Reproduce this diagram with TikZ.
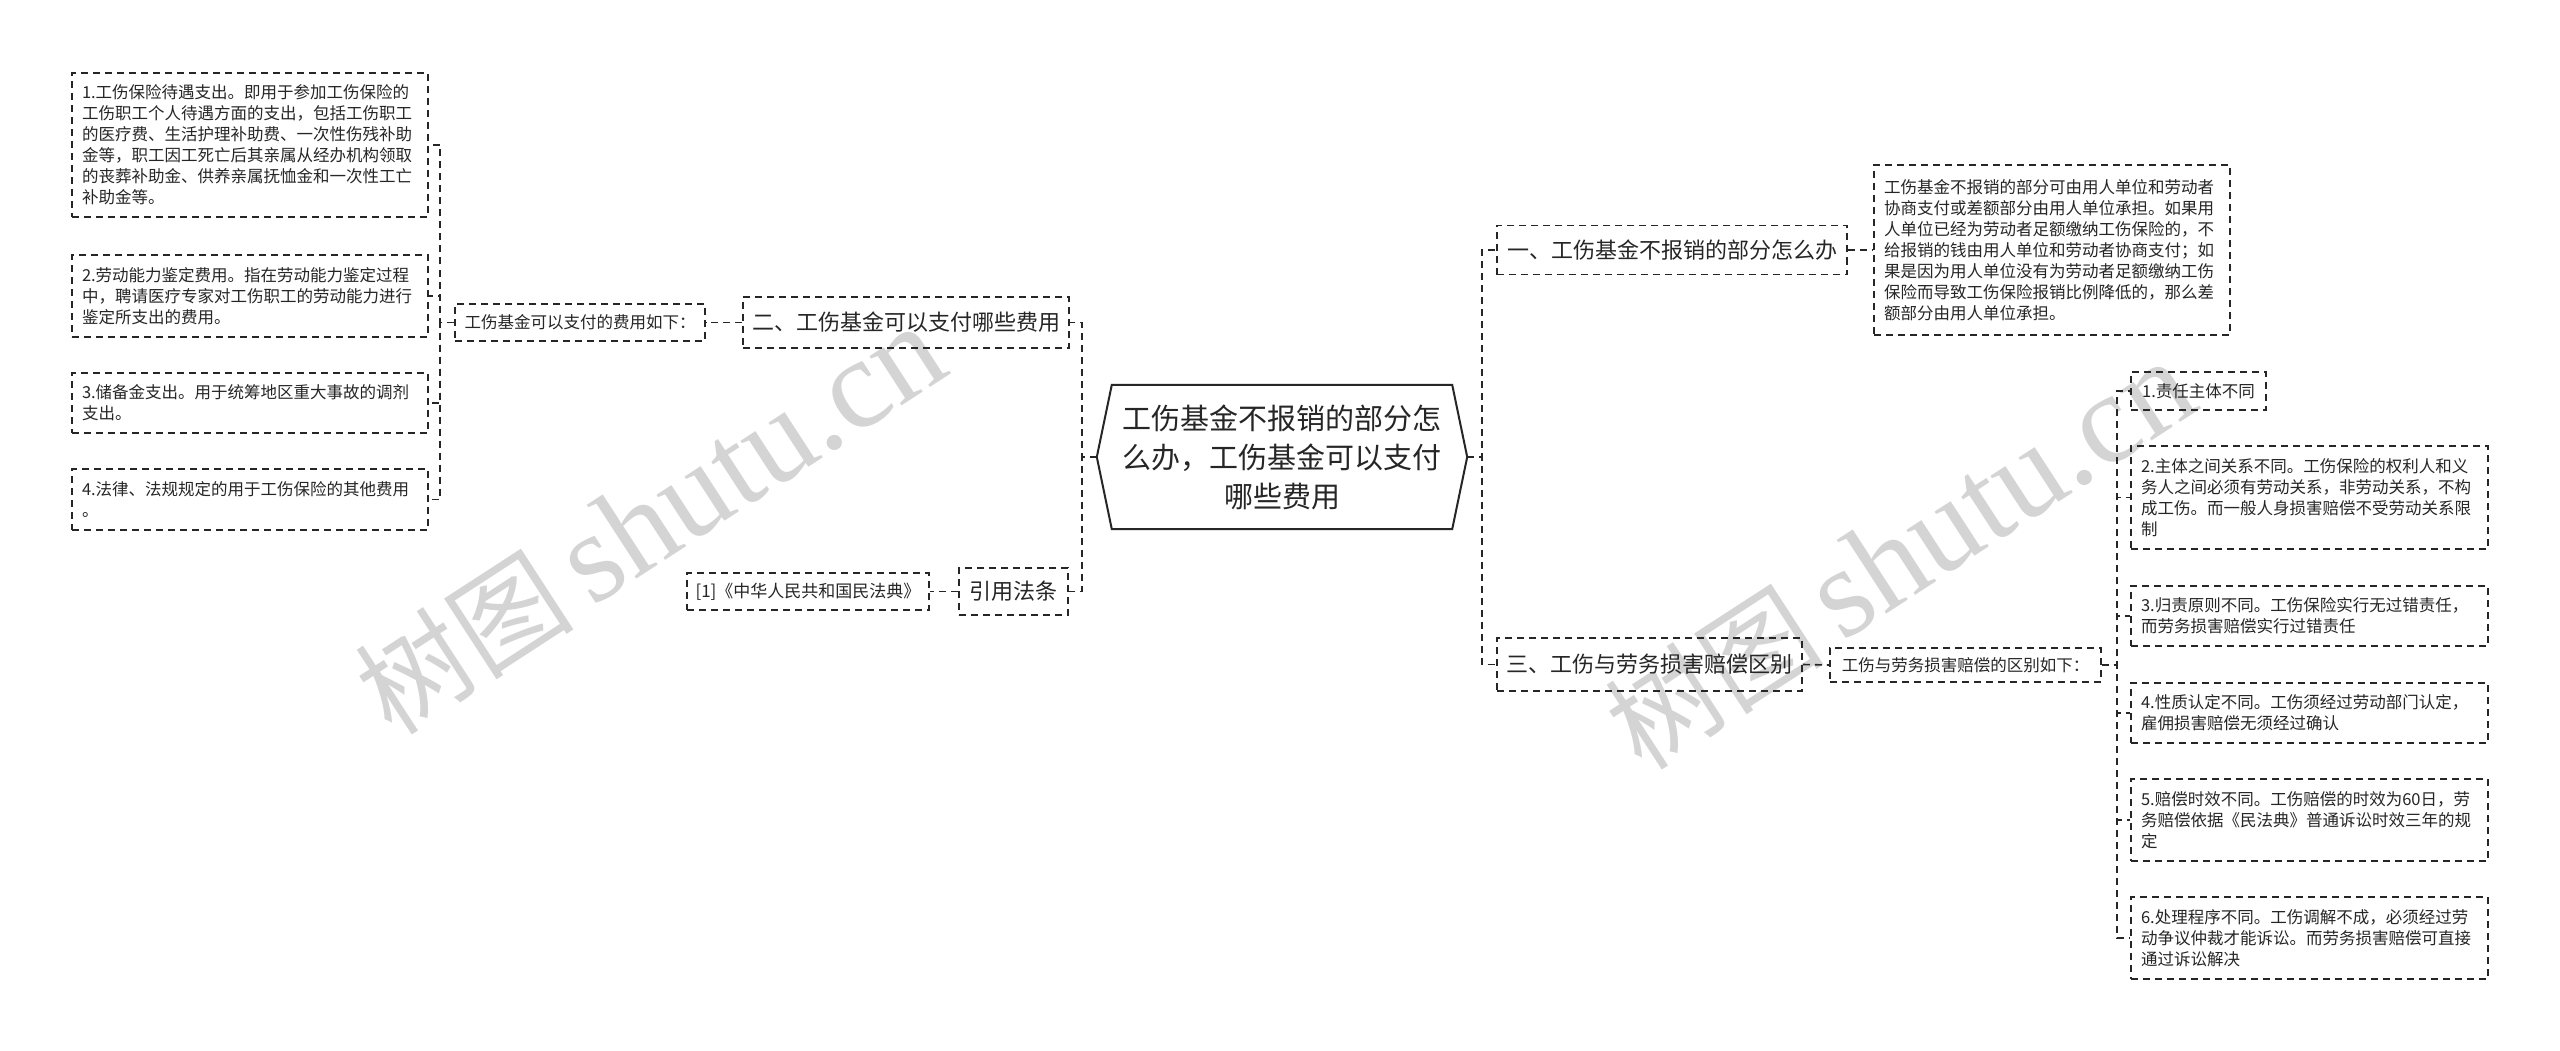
\documentclass[tikz,border=0pt]{standalone}
\usepackage{fontspec}
\setmainfont{Noto Sans CJK SC}
\newfontfamily\wmlatin{Liberation Serif}
\usetikzlibrary{calc}
\begin{document}
\begin{tikzpicture}[x=1pt,y=-1pt,
  dashline/.style={draw=black!85, line width=1.6pt, dash pattern=on 7pt off 5pt},
  conn/.style={dashline},
  boxbase/.style={dashline, inner sep=0pt, text=black!85},
  small/.style={boxbase, align=left, font=\fontsize{16.5}{21}\selectfont},
  big/.style={boxbase, align=center, font=\fontsize{22}{28}\selectfont},
  wm/.style={text=black!17, rotate=33, inner sep=0pt}
]
\useasboundingbox[fill=white] (0,0) rectangle (2560,1051);

% watermarks
\node[wm] (wma) at (650,520) {\fontsize{110}{110}\selectfont 树图\,\wmlatin\fontsize{128}{128}\selectfont shutu.cn};
\node[wm] (wmb) at (1900,555) {\fontsize{110}{110}\selectfont 树图\,\wmlatin\fontsize{128}{128}\selectfont shutu.cn};

% root
\node[inner sep=0pt, minimum width=340pt, minimum height=144pt, align=center,
      text width=330pt, font=\fontsize{29}{39}\selectfont, text=black!85] (root) at (1282,457)
  {工伤基金不报销的部分怎\\么办，工伤基金可以支付\\哪些费用};
\coordinate (rootL) at ([xshift=-15pt]root.west);
\coordinate (rootR) at ([xshift=15pt]root.east);
\draw[line width=2pt, black!85] (root.north west) -- (root.north east) -- (rootR) -- (root.south east)
  -- (root.south west) -- (rootL) -- cycle;

% left branch
\node[big, minimum width=326pt, minimum height=51pt] (er) at (906,322.5) {二、工伤基金可以支付哪些费用};
\node[small, minimum width=250pt, minimum height=37pt, align=center] (fy) at (580,322.5) {工伤基金可以支付的费用如下：};
\node[small, minimum width=356pt, minimum height=144pt, text width=336pt] (L1) at (250,145)
  {1.工伤保险待遇支出。即用于参加工伤保险的\\工伤职工个人待遇方面的支出，包括工伤职工\\的医疗费、生活护理补助费、一次性伤残补助\\金等，职工因工死亡后其亲属从经办机构领取\\的丧葬补助金、供养亲属抚恤金和一次性工亡\\补助金等。};
\node[small, minimum width=356pt, minimum height=82pt, text width=336pt] (L2) at (250,296)
  {2.劳动能力鉴定费用。指在劳动能力鉴定过程\\中，聘请医疗专家对工伤职工的劳动能力进行\\鉴定所支出的费用。};
\node[small, minimum width=356pt, minimum height=60pt, text width=336pt] (L3) at (250,403)
  {3.储备金支出。用于统筹地区重大事故的调剂\\支出。};
\node[small, minimum width=356pt, minimum height=61pt, text width=336pt] (L4) at (250,499.5)
  {4.法律、法规规定的用于工伤保险的其他费用\\。};
\node[big, minimum width=109pt, minimum height=47pt] (yy) at (1013.5,591.5) {引用法条};
\node[small, minimum width=242pt, minimum height=37pt, align=center, font=\fontsize{17}{21}\selectfont] (ref) at (808,591.5) {[1]《中华人民共和国民法典》};

% right branch
\node[big, minimum width=350pt, minimum height=49pt] (y1) at (1672,250) {一、工伤基金不报销的部分怎么办};
\node[small, minimum width=356pt, minimum height=170pt, text width=336pt] (t1) at (2052,250)
  {工伤基金不报销的部分可由用人单位和劳动者\\协商支付或差额部分由用人单位承担。如果用\\人单位已经为劳动者足额缴纳工伤保险的，不\\给报销的钱由用人单位和劳动者协商支付；如\\果是因为用人单位没有为劳动者足额缴纳工伤\\保险而导致工伤保险报销比例降低的，那么差\\额部分由用人单位承担。};
\node[big, minimum width=305pt, minimum height=53pt] (s3) at (1649.5,664.5) {三、工伤与劳务损害赔偿区别};
\node[small, minimum width=271pt, minimum height=34pt, align=center] (qb) at (1965.5,665) {工伤与劳务损害赔偿的区别如下：};
\node[small, minimum width=135pt, minimum height=38pt, align=center] (R1) at (2198.5,391) {1.责任主体不同};
\node[small, minimum width=357pt, minimum height=103pt, text width=337pt] (R2) at (2309.5,497.5)
  {2.主体之间关系不同。工伤保险的权利人和义\\务人之间必须有劳动关系，非劳动关系，不构\\成工伤。而一般人身损害赔偿不受劳动关系限\\制};
\node[small, minimum width=357pt, minimum height=60pt, text width=337pt] (R3) at (2309.5,616)
  {3.归责原则不同。工伤保险实行无过错责任，\\而劳务损害赔偿实行过错责任};
\node[small, minimum width=357pt, minimum height=60pt, text width=337pt] (R4) at (2309.5,713)
  {4.性质认定不同。工伤须经过劳动部门认定，\\雇佣损害赔偿无须经过确认};
\node[small, minimum width=357pt, minimum height=82pt, text width=337pt] (R5) at (2309.5,820)
  {5.赔偿时效不同。工伤赔偿的时效为60日，劳\\务赔偿依据《民法典》普通诉讼时效三年的规\\定};
\node[small, minimum width=357pt, minimum height=82pt, text width=337pt] (R6) at (2309.5,938)
  {6.处理程序不同。工伤调解不成，必须经过劳\\动争议仲裁才能诉讼。而劳务损害赔偿可直接\\通过诉讼解决};

% connectors
\draw[conn] (rootL) -- ++(-15,0) |- (er.east);
\draw[conn] (rootL) -- ++(-15,0) |- (yy.east);
\draw[conn] (er.west) -- (fy.east);
\foreach \n in {L1,L2,L3,L4} \draw[conn] (fy.west) -- ++(-14,0) |- (\n.east);
\draw[conn] (yy.west) -- (ref.east);
\draw[conn] (rootR) -- ++(15,0) |- (y1.west);
\draw[conn] (rootR) -- ++(15,0) |- (s3.west);
\draw[conn] (y1.east) -- (t1.west);
\draw[conn] (s3.east) -- (qb.west);
\foreach \n in {R1,R2,R3,R4,R5,R6} \draw[conn] (qb.east) -- ++(15,0) |- (\n.west);
\end{tikzpicture}
\end{document}
